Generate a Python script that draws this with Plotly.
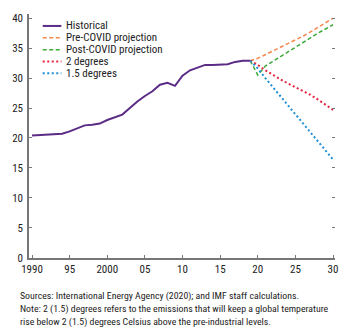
import plotly.graph_objects as go

# CO2 emissions (gigatonnes), historical and scenario paths
hist_years = list(range(1990, 2020))
historical = [20.4, 20.5, 20.5, 20.6, 20.7, 21.1, 21.6, 22.1, 22.2, 22.4,
              23.0, 23.5, 23.9, 25.0, 26.1, 27.0, 27.8, 28.9, 29.2, 28.7,
              30.4, 31.3, 31.7, 32.2, 32.2, 32.2, 32.3, 32.7, 32.9, 32.9]

proj_years = list(range(2019, 2031))
pre_covid = [32.9, 33.3, 33.9, 34.5, 35.1, 35.7, 36.3, 37.0, 37.7, 38.5, 39.2, 40.0]
post_covid = [32.9, 30.5, 32.0, 32.8, 33.6, 34.4, 35.2, 36.0, 36.8, 37.5, 38.2, 38.9]
two_deg = [32.9, 32.2, 31.3, 30.5, 29.8, 29.1, 28.5, 27.9, 27.2, 26.4, 25.6, 24.7]
one_five_deg = [32.9, 31.6, 30.0, 28.5, 27.0, 25.4, 23.9, 22.4, 20.9, 19.4, 17.9, 16.4]

x_tickvals = [1990, 1995, 2000, 2005, 2010, 2015, 2020, 2025, 2030]
x_ticktext = ["1990", "95", "2000", "05", "10", "15", "20", "25", "30"]
y_tickvals = [0, 5, 10, 15, 20, 25, 30, 35, 40]

FONT = "Liberation Sans Narrow, Arial Narrow, Roboto Condensed, Liberation Sans, sans-serif"

W, H = 350, 333
M = dict(l=23, r=15, t=13, b=75)
PW = W - M["l"] - M["r"]
PH = H - M["t"] - M["b"]


def px_to_paper(px, py):
    return (px - M["l"]) / PW, (H - M["b"] - py) / PH


series = [
    ("Historical", hist_years, historical, dict(color="#5B2C86", width=2)),
    ("Pre-COVID projection", proj_years, pre_covid, dict(color="#F4874B", width=1.5, dash="4px,2.5px")),
    ("Post-COVID projection", proj_years, post_covid, dict(color="#3DAA3A", width=1.5, dash="4px,2.5px")),
    ("2 degrees", proj_years, two_deg, dict(color="#E8233F", width=2, dash="2px,2.5px")),
    ("1.5 degrees", proj_years, one_five_deg, dict(color="#1E8FD5", width=2, dash="2px,2.5px")),
]

fig = go.Figure()
for name, xs, ys, line in series:
    fig.add_trace(go.Scatter(x=xs, y=ys, name=name, mode="lines", line=line, showlegend=False))

# invisible trace carrying the right-hand tick marks
fig.add_trace(go.Scatter(x=[hist_years[0]], y=[historical[0]], yaxis="y2", mode="lines",
                         showlegend=False, hoverinfo="skip", line=dict(width=0)))

# compact legend: short line samples with labels
for i, (name, _, _, line) in enumerate(series):
    row_y = 25 + 11.9 * i
    x0, y0 = px_to_paper(37, row_y)
    x1, _ = px_to_paper(56, row_y)
    lx, _ = px_to_paper(59, row_y)
    fig.add_shape(type="line", xref="paper", yref="paper", x0=x0, x1=x1, y0=y0, y1=y0,
                  line=line)
    fig.add_annotation(text=name, xref="paper", yref="paper", x=lx, y=y0,
                       xanchor="left", yanchor="middle", showarrow=False,
                       font=dict(size=11, color="#222", family=FONT))

fig.update_layout(
    width=W, height=H,
    margin=M,
    paper_bgcolor="white", plot_bgcolor="white",
    font=dict(family=FONT, size=11, color="#222"),
    showlegend=False,
    xaxis=dict(range=[1989.6, 2030.26], tickvals=x_tickvals, ticktext=x_ticktext,
               showgrid=False, zeroline=False, showline=True, linecolor="#777", linewidth=1.5,
               ticks="inside", ticklen=3, tickcolor="#777", tickwidth=1,
               tickfont=dict(size=11, color="#222")),
    yaxis=dict(range=[-0.05, 40.7], tickvals=y_tickvals,
               showgrid=False, zeroline=False, showline=True, linecolor="#777", linewidth=1.5,
               ticks="inside", ticklen=3, tickcolor="#777", tickwidth=1,
               tickfont=dict(size=11, color="#222"), ticklabelstandoff=2),
    yaxis2=dict(range=[-0.05, 40.7], tickvals=y_tickvals, overlaying="y", side="right",
                showgrid=False, zeroline=False, showline=False, showticklabels=False,
                ticks="inside", ticklen=3, tickcolor="#777", tickwidth=1),
)

notes = [
    "Sources: International Energy Agency (2020); and IMF staff calculations.",
    "Note: 2 (1.5) degrees refers to the emissions that will keep a global temperature",
    "rise below 2 (1.5) degrees Celsius above the pre-industrial levels.",
]
for i, line in enumerate(notes):
    nx, ny = px_to_paper(12, 296 + 13 * i)
    fig.add_annotation(text=line, xref="paper", yref="paper", x=nx, y=ny,
                       xanchor="left", yanchor="middle", showarrow=False,
                       font=dict(size=9.8, color="#222", family=FONT))

fig.write_html("out.html")
